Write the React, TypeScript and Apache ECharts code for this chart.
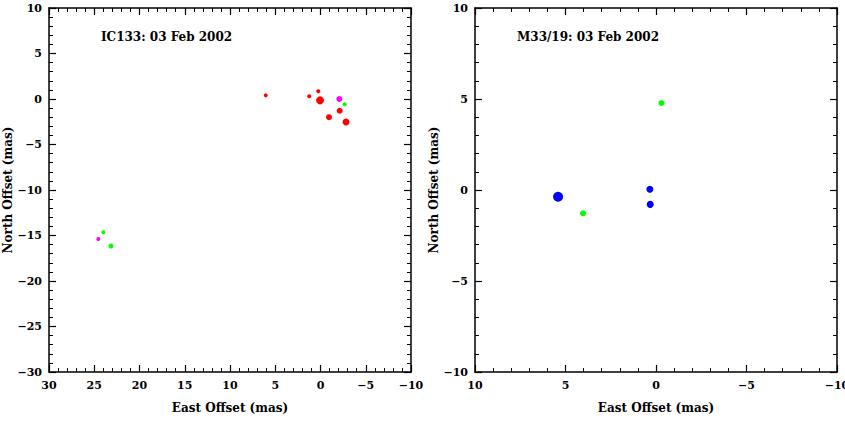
import React, { useEffect, useRef } from "react";
import * as echarts from "echarts";

// Left panel: IC133
const ic133RedX = [6.05, 1.24, 0.24, 0.05, -2.12, -0.94, -2.82];
const ic133RedY = [0.4, 0.3, 0.85, -0.15, -1.29, -2.0, -2.53];
const ic133RedSize = [4, 4, 4, 8, 6, 6, 7];
const ic133MagX = [-2.08, 24.55];
const ic133MagY = [0.0, -15.38];
const ic133MagSize = [6, 4];
const ic133GreenX = [-2.67, 24.0, 23.15];
const ic133GreenY = [-0.58, -14.65, -16.15];
const ic133GreenSize = [4, 4, 5];

// Right panel: M33/19
const m33BlueX = [5.41, 0.34, 0.32];
const m33BlueY = [-0.37, 0.04, -0.79];
const m33BlueSize = [10, 7, 7];
const m33GreenX = [-0.3, 4.03];
const m33GreenY = [4.78, -1.28];
const m33GreenSize = [6, 6];

const leftTitle = "IC133: 03 Feb 2002";
const rightTitle = "M33/19: 03 Feb 2002";
const xName = "East Offset (mas)";
const yName = "North Offset (mas)";

const FONT = "DejaVu Serif";

const pts = (xs: number[], ys: number[], ss: number[]) =>
  xs.map((x, i) => ({ value: [x, ys[i]], symbolSize: ss[i] }));

const fmt = (v: number) => String(v).replace("-", "\u2212");

function axisBase(extra: any) {
  return {
    type: "value",
    interval: 5,
    axisLine: { show: true, onZero: false, lineStyle: { color: "#000", width: 1.5 } },
    axisTick: { show: true, inside: true, length: 7, lineStyle: { color: "#000", width: 1.2 } },
    minorTick: { show: true, splitNumber: 5, length: 4, lineStyle: { color: "#000", width: 1 } },
    splitLine: { show: false },
    axisLabel: {
      show: true,
      color: "#000",
      fontFamily: FONT,
      fontWeight: "bold",
      fontSize: 11,
      formatter: fmt,
    },
    ...extra,
  };
}

export default function App() {
  const ref = useRef<HTMLDivElement>(null);
  useEffect(() => {
    if (!ref.current) return;
    const chart = echarts.init(ref.current, null, { renderer: "svg" });
    const grids = [
      { left: 49, right: 434, top: 8, bottom: 49, containLabel: false, outerBoundsMode: "none" },
      { left: 475, right: 8, top: 8, bottom: 49, containLabel: false, outerBoundsMode: "none" },
    ];
    const xAxes: any[] = [];
    const yAxes: any[] = [];
    const lim = [
      { xmin: -10, xmax: 30, ymin: -30, ymax: 10 },
      { xmin: -10, xmax: 10, ymin: -10, ymax: 10 },
    ];
    lim.forEach((l, g) => {
      xAxes.push(
        axisBase({
          gridIndex: g,
          position: "bottom",
          min: l.xmin,
          max: l.xmax,
          inverse: true,
          name: xName,
          nameLocation: "middle",
          nameGap: 30,
          nameTextStyle: { color: "#000", fontFamily: FONT, fontWeight: "bold", fontSize: 12 },
          axisLabel: {
            show: true,
            color: "#000",
            fontFamily: FONT,
            fontWeight: "bold",
            fontSize: 11,
            formatter: fmt,
            margin: 8,
          },
        })
      );
      xAxes.push(
        axisBase({
          gridIndex: g,
          position: "top",
          min: l.xmin,
          max: l.xmax,
          inverse: true,
          axisLabel: { show: false },
        })
      );
      yAxes.push(
        axisBase({
          gridIndex: g,
          position: "left",
          min: l.ymin,
          max: l.ymax,
          name: yName,
          nameLocation: "middle",
          nameGap: 26,
          nameRotate: 90,
          nameTextStyle: { color: "#000", fontFamily: FONT, fontWeight: "bold", fontSize: 12 },
          axisLabel: {
            show: true,
            color: "#000",
            fontFamily: FONT,
            fontWeight: "bold",
            fontSize: 11,
            formatter: fmt,
            margin: 7,
          },
        })
      );
      yAxes.push(
        axisBase({
          gridIndex: g,
          position: "right",
          min: l.ymin,
          max: l.ymax,
          axisLabel: { show: false },
        })
      );
    });

    const mk = (name: string, data: any[], color: string, xi: number, yi: number) => ({
      type: "scatter",
      name,
      xAxisIndex: xi,
      yAxisIndex: yi,
      data,
      itemStyle: { color, opacity: 1 },
      symbol: "circle",
    });

    chart.setOption({
      animation: false,
      backgroundColor: "#fff",
      grid: grids,
      xAxis: xAxes,
      yAxis: yAxes,
      graphic: [
        {
          type: "text",
          left: 101,
          top: 31,
          style: { text: leftTitle, fill: "#000", font: `bold 12px "${FONT}"` },
        },
        {
          type: "text",
          left: 517,
          top: 31,
          style: { text: rightTitle, fill: "#000", font: `bold 12px "${FONT}"` },
        },
      ],
      series: [
        mk("IC133 red", pts(ic133RedX, ic133RedY, ic133RedSize), "#ff0000", 0, 0),
        mk("IC133 magenta", pts(ic133MagX, ic133MagY, ic133MagSize), "#ff00ff", 0, 0),
        mk("IC133 green", pts(ic133GreenX, ic133GreenY, ic133GreenSize), "#00ff00", 0, 0),
        mk("M33 blue", pts(m33BlueX, m33BlueY, m33BlueSize), "#0000ff", 2, 2),
        mk("M33 green", pts(m33GreenX, m33GreenY, m33GreenSize), "#00ff00", 2, 2),
      ],
    });
    return () => chart.dispose();
  }, []);
  return (
    <div
      ref={ref}
      style={{ position: "fixed", left: 0, top: 0, width: 845, height: 421, background: "#fff" }}
    />
  );
}
